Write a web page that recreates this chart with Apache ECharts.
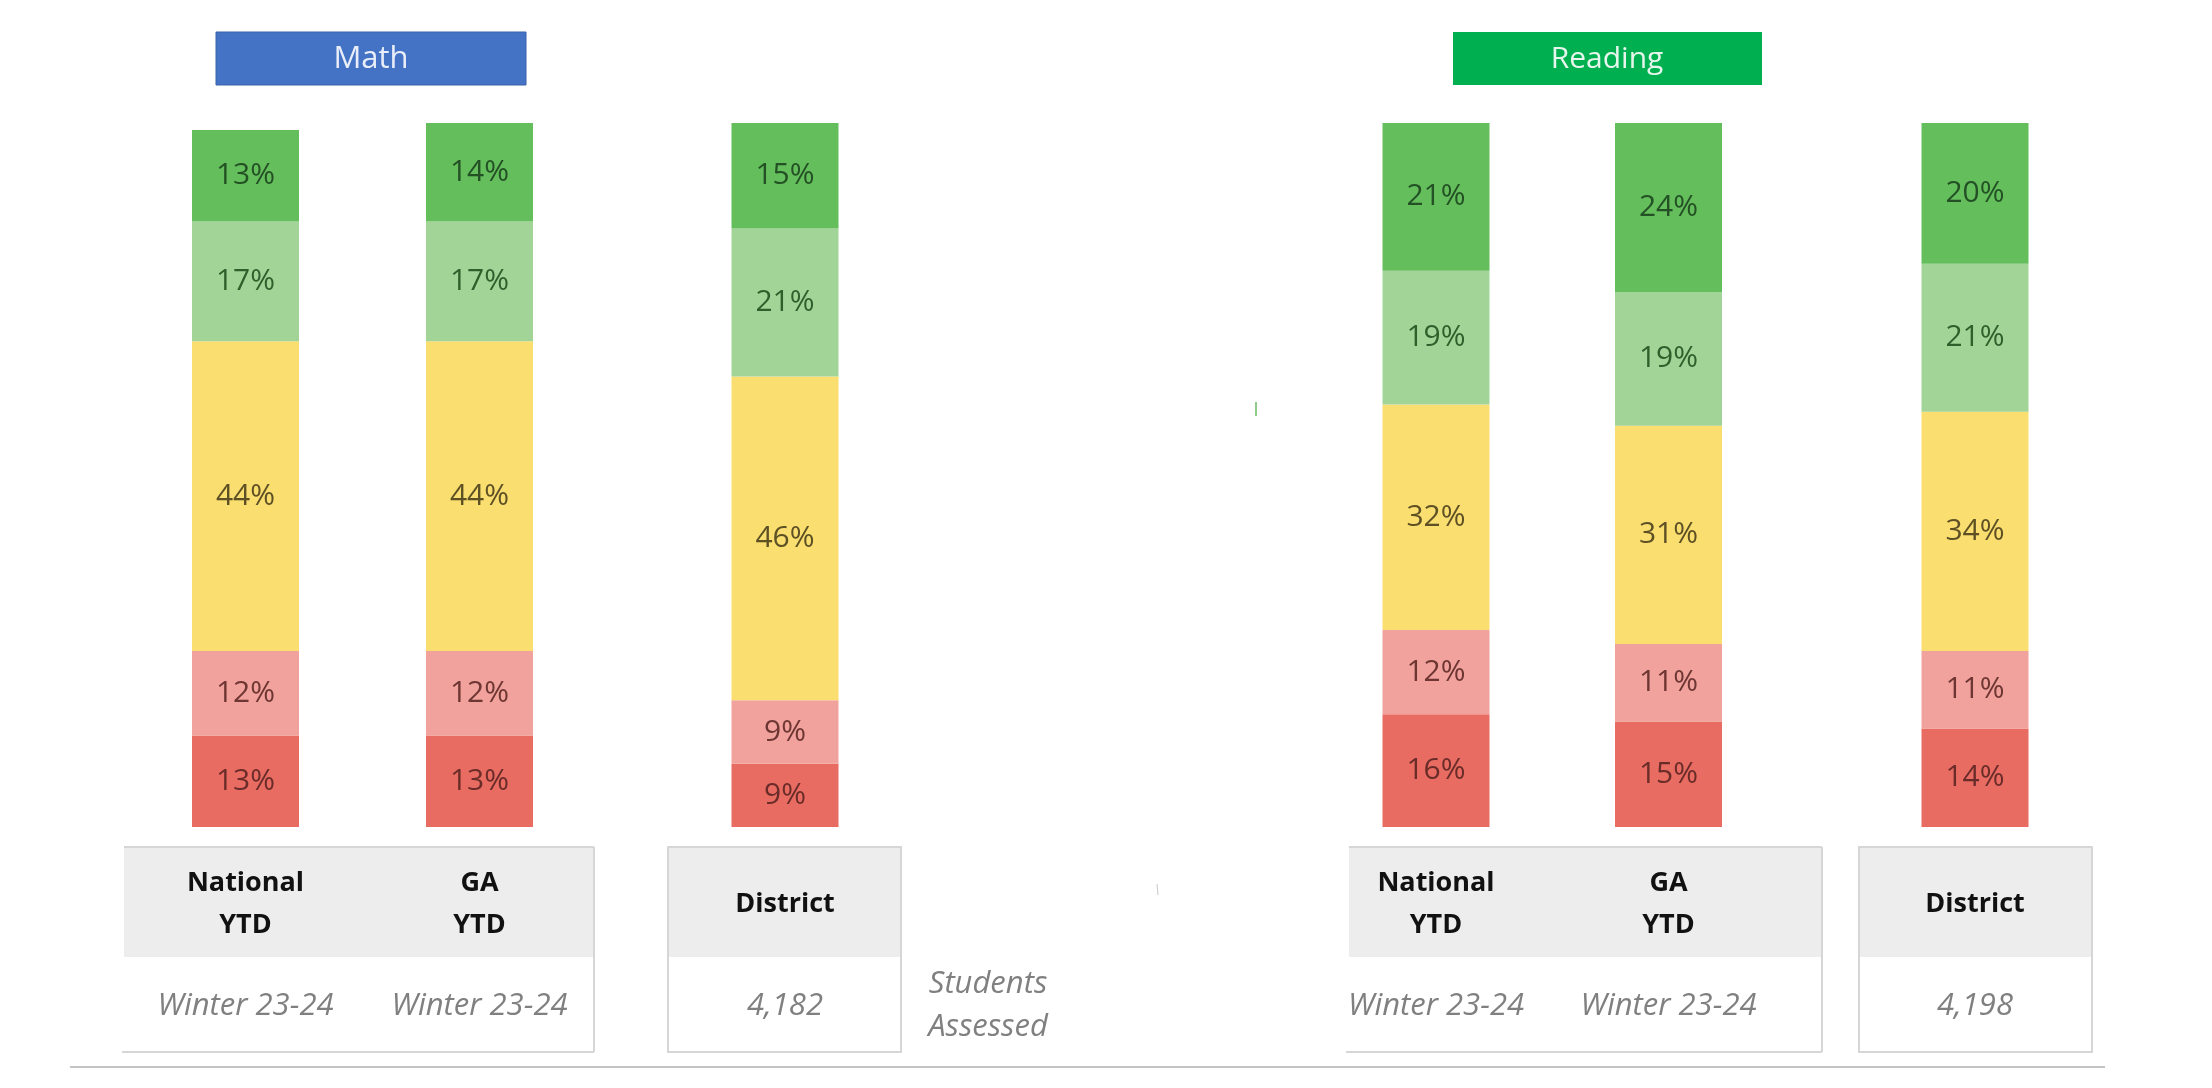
<!DOCTYPE html>
<html>
<head>
<meta charset="utf-8">
<script src="https://cdn.jsdelivr.net/npm/echarts@6/dist/echarts.min.js"></script>
<style>
html,body{margin:0;padding:0;background:#fff;}
#chart{width:2212px;height:1088px;}
</style>
</head>
<body>
<div id="chart"></div>
<script>
// ---- data ----
const categories = ["National YTD", "GA YTD", "District"];
const headerLines = [["National", "YTD"], ["GA", "YTD"], ["District"]];
const levelNames = ["Low", "LoAvg", "Avg", "HiAvg", "High"];
const mathLow   = [13, 13, 9];
const mathLoAvg = [12, 12, 9];
const mathAvg   = [44, 44, 46];
const mathHiAvg = [17, 17, 21];
const mathHigh  = [13, 14, 15];
const readLow   = [16, 15, 14];
const readLoAvg = [12, 11, 11];
const readAvg   = [32, 31, 34];
const readHiAvg = [19, 19, 21];
const readHigh  = [21, 24, 20];
const mathFooter = ["Winter 23-24", "Winter 23-24", "4,182"];
const readFooter = ["Winter 23-24", "Winter 23-24", "4,198"];
const subjects = ["Math", "Reading"];
const studentsLabel = ["Students", "Assessed"];

// ---- styles ----
const levelColors = ["#E96C63", "#F1A29C", "#FADE6F", "#A3D497", "#64BE5C"];
const labelColors = ["#6A2C28", "#6E3633", "#5E5025", "#2F5F2B", "#235024"];
const barCenters = [245.5, 479.5, 785, 1436, 1668.5, 1975];
const barW = 107;
const plotTop = 123, plotH = 704;

const mathData = [mathLow, mathLoAvg, mathAvg, mathHiAvg, mathHigh];
const readData = [readLow, readLoAvg, readAvg, readHiAvg, readHigh];

const grids = [], xAxes = [], yAxes = [], series = [];
barCenters.forEach((c, i) => {
  const subj = i < 3 ? mathData : readData;
  const ci = i % 3;
  grids.push({left: c - barW / 2, width: barW, top: plotTop, height: plotH});
  xAxes.push({type: 'category', gridIndex: i, data: [categories[ci]], show: false});
  yAxes.push({type: 'value', gridIndex: i, min: 0, max: 100, show: false});
  levelNames.forEach((lv, k) => {
    series.push({
      type: 'bar', name: lv, stack: 's' + i, xAxisIndex: i, yAxisIndex: i,
      barWidth: '100%', data: [subj[k][ci]],
      itemStyle: {color: levelColors[k]},
      label: {show: true, position: 'inside', formatter: '{c}%',
        fontFamily: 'Open Sans', fontSize: 30, color: labelColors[k]},
      emphasis: {disabled: true}, animation: false
    });
  });
});

// ---- graphics (title boxes, tables) ----
const g = [];
function rect(x, y, w, h, fill, stroke, lw) {
  g.push({type: 'rect', shape: {x, y, width: w, height: h},
    style: {fill: fill || 'none', stroke: stroke || null, lineWidth: lw || 0}, silent: true});
}
function line(x1, y1, x2, y2, color, lw) {
  g.push({type: 'line', shape: {x1, y1, x2, y2}, style: {stroke: color, lineWidth: lw || 2}, silent: true});
}
function text(t, x, y, font, fill) {
  g.push({type: 'text', x: x, y: y, style: {text: t, font: font, fill: fill,
    textAlign: 'center', textVerticalAlign: 'middle', align: 'center', verticalAlign: 'middle'}, silent: true});
}

// title boxes
rect(216, 32, 310, 53, '#4472C4', '#3A62AA', 1);
text(subjects[0], 371, 59, '31px "Open Sans"', '#E9EEF8');
rect(1453, 32, 309, 53, '#00B050');
text(subjects[1], 1607, 59, '30px "Open Sans"', '#E6F6EC');

const tTop = 847, tHead = 957, tBot = 1052;
const border = '#D6D6D6';
// Math national/GA table
rect(124, tTop, 470, tHead - tTop, '#EDEDED');
line(124, tTop, 594, tTop, border, 2);
line(594, tTop, 594, tBot, border, 2);
line(122, tBot, 594, tBot, border, 2);
// Math district table
rect(668, tTop, 233, tHead - tTop, '#EDEDED');
rect(668, tTop, 233, tBot - tTop, null, border, 2);
// Reading national/GA table
rect(1349, tTop, 473, tHead - tTop, '#EDEDED');
line(1349, tTop, 1822, tTop, border, 2);
line(1822, tTop, 1822, tBot, border, 2);
line(1346, tBot, 1822, tBot, border, 2);
// Reading district table
rect(1859, tTop, 233, tHead - tTop, '#EDEDED');
rect(1859, tTop, 233, tBot - tTop, null, border, 2);
// bottom rule
line(70, 1067, 2105, 1067, '#C4C4C4', 2);

const headFont = 'bold 27px "Open Sans"';
const footFont = 'italic 31px "Open Sans"';
barCenters.forEach((c, i) => {
  const ci = i % 3;
  const lines = headerLines[ci];
  if (lines.length === 2) {
    text(lines[0], c, 883, headFont, '#111');
    text(lines[1], c, 925, headFont, '#111');
  } else {
    text(lines[0], c, 904, headFont, '#111');
  }
  const foot = i < 3 ? mathFooter[ci] : readFooter[ci];
  text(foot, c, 1006, footFont, '#808080');
});
text(studentsLabel[0], 988, 984, footFont, '#808080');
text(studentsLabel[1], 988, 1027, footFont, '#808080');

// small stray marks present in the source image
line(1256, 402, 1256, 416, '#8FCB8A', 2);
line(1157, 884, 1158, 895, '#C8C8C8', 1);

const chart = echarts.init(document.getElementById('chart'));
chart.setOption({
  animation: false,
  backgroundColor: '#fff',
  grid: grids, xAxis: xAxes, yAxis: yAxes, series: series,
  graphic: {elements: g}
});
</script>
</body>
</html>
